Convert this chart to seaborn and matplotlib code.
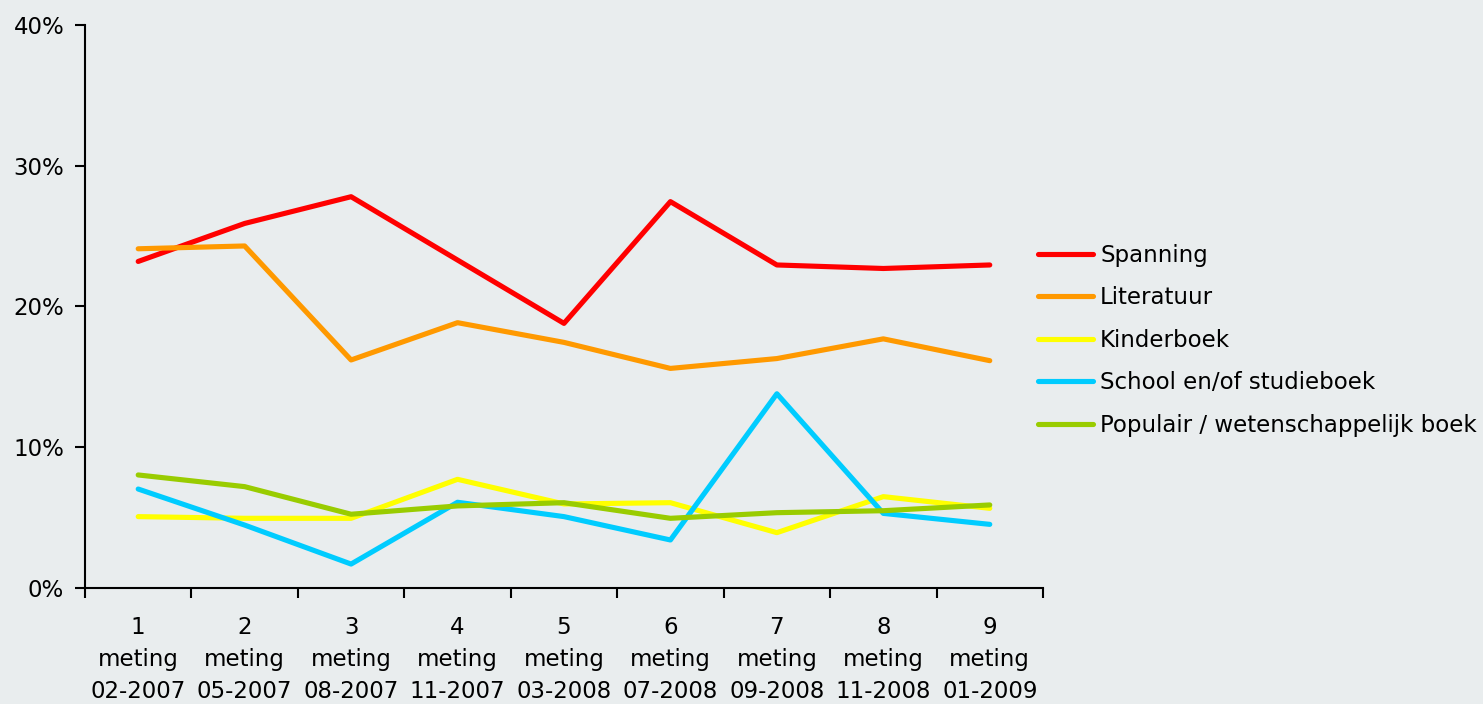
import matplotlib
matplotlib.use("Agg")
import matplotlib.pyplot as plt
import numpy as np
import pandas as pd
import seaborn as sns

# data (percent)
metingen = ["1\nmeting\n02-2007", "2\nmeting\n05-2007", "3\nmeting\n08-2007",
            "4\nmeting\n11-2007", "5\nmeting\n03-2008", "6\nmeting\n07-2008",
            "7\nmeting\n09-2008", "8\nmeting\n11-2008", "9\nmeting\n01-2009"]
spanning = [23.2, 25.9, 27.8, 23.3, 18.8, 27.45, 22.95, 22.7, 22.95]
literatuur = [24.1, 24.3, 16.2, 18.85, 17.45, 15.6, 16.3, 17.7, 16.15]
kinderboek = [5.07, 4.95, 4.95, 7.72, 5.97, 6.06, 3.93, 6.49, 5.66]
school = [7.03, 4.47, 1.7, 6.09, 5.07, 3.41, 13.8, 5.3, 4.52]
populair = [8.03, 7.2, 5.24, 5.83, 6.06, 4.95, 5.35, 5.49, 5.9]

series_names = ["Spanning", "Literatuur", "Kinderboek",
                "School en/of studieboek", "Populair / wetenschappelijk boek"]
series_values = [spanning, literatuur, kinderboek, school, populair]
colors = ["#ff0000", "#ff9900", "#ffff00", "#00ccff", "#99cc00"]

rows = []
for name, vals in zip(series_names, series_values):
    for i, v in enumerate(vals):
        rows.append({"pos": i, "waarde": v, "genre": name})
df = pd.DataFrame(rows)

bg = "#e9edee"
sns.set_theme(style="white")
plt.rcParams["font.family"] = ["DejaVu Sans"]
plt.rcParams["text.color"] = "black"
plt.rcParams["xtick.color"] = "black"
plt.rcParams["ytick.color"] = "black"

fs = 16.5
fig = plt.figure(figsize=(14.83, 7.04), dpi=100, facecolor=bg)
ax = fig.add_axes([0.0573, 0.1648, 0.646, 0.7997])
ax.set_facecolor(bg)

sns.lineplot(data=df, x="pos", y="waarde", hue="genre", hue_order=series_names,
             palette=colors, linewidth=3.7, ax=ax, legend=True, sort=False)

ax.set_xlim(-0.5, len(metingen) - 0.5)
ax.set_ylim(0, 40)
ax.set_yticks([0, 10, 20, 30, 40])
ax.set_yticklabels([f"{t}%" for t in [0, 10, 20, 30, 40]], fontsize=fs)

# tick marks between categories, labels at centres
n = len(metingen)
ax.set_xticks(np.arange(-0.5, n, 1.0))
ax.set_xticklabels([])
ax.set_xticks(np.arange(n), minor=True)
ax.set_xticklabels(metingen, minor=True, fontsize=fs, linespacing=1.5)
ax.tick_params(axis="x", which="major", direction="out", length=7, width=1.5,
               color="black", bottom=True)
ax.tick_params(axis="x", which="minor", length=0, pad=20)
ax.tick_params(axis="y", direction="out", length=7, width=1.5, color="black",
               left=True, pad=8)

for side in ["top", "right"]:
    ax.spines[side].set_visible(False)
for side in ["left", "bottom"]:
    ax.spines[side].set_color("black")
    ax.spines[side].set_linewidth(1.5)

ax.set_xlabel("")
ax.set_ylabel("")
ax.grid(False)

handles, labels = ax.get_legend_handles_labels()
ax.legend(handles, labels, loc="center left", bbox_to_anchor=(0.995, 0.44),
          frameon=False, fontsize=fs, handlelength=2.4, handletextpad=0.3,
          labelspacing=0.85, borderaxespad=0, borderpad=0)

fig.savefig("out.png", dpi=100, facecolor=bg)
